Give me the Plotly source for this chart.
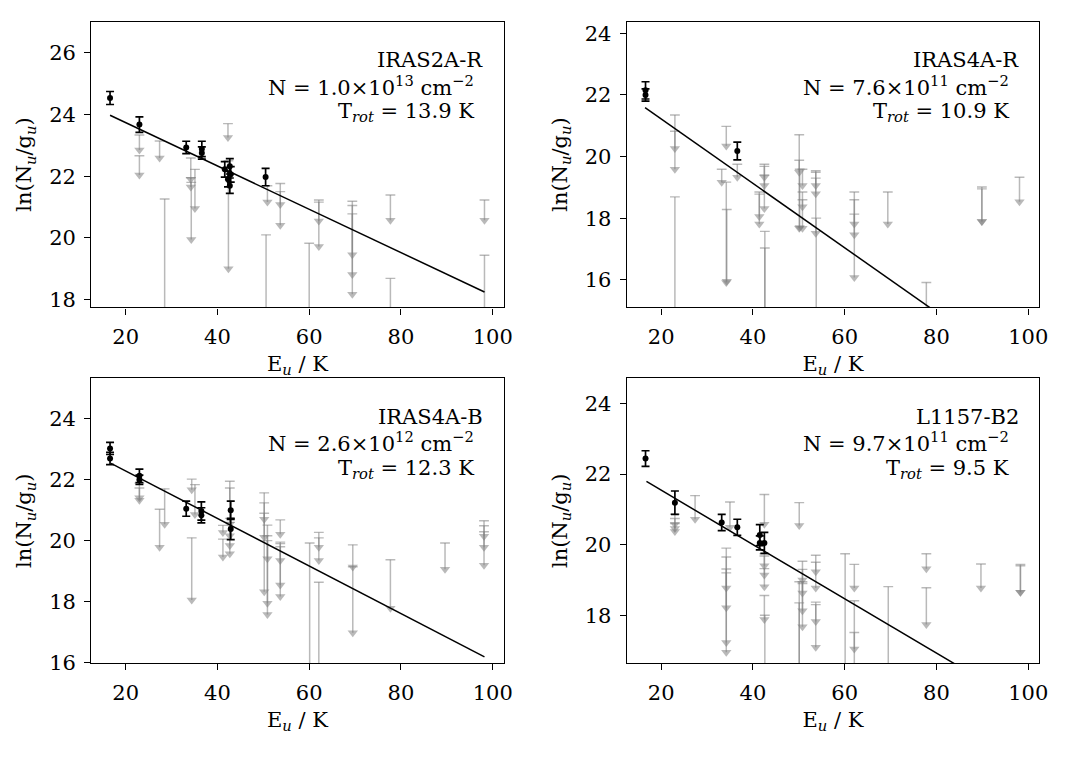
import plotly.graph_objects as go

# ---------------- data ----------------
# Panel 1: IRAS2A-R
p1_det_x = [16.6, 23.0, 33.2, 36.6, 36.6, 41.6, 42.3, 42.7, 42.9, 42.7, 50.5]
p1_det_y = [24.53, 23.67, 22.93, 22.88, 22.75, 22.22, 21.90, 22.32, 22.06, 21.69, 21.97]
p1_det_err = [0.21, 0.25, 0.20, 0.25, 0.20, 0.25, 0.25, 0.25, 0.25, 0.25, 0.28]
p1_lim_x = [23.0, 23.0, 27.4, 28.5, 34.2, 34.2, 34.3, 35.1, 42.3, 42.4, 50.9, 50.6,
            53.7, 53.7, 60.0, 62.1, 62.1, 69.4, 69.4, 69.4, 77.7, 77.7, 98.2, 98.2]
p1_lim_top = [23.33, 22.66, 23.14, 21.26, 22.59, 21.95, 21.80, 22.22, 23.70, 22.50, 21.69, 20.10,
              21.76, 21.50, 19.83, 21.23, 21.16, 21.19, 21.05, 20.78, 21.39, 18.69, 21.23, 19.44]
p1_lim_bot = [22.85, 22.04, 22.59, 14.0, 21.90, 21.65, 19.95, 20.95, 23.25, 19.00, 21.16, 14.0,
              21.08, 20.41, 14.0, 20.55, 19.72, 19.46, 18.82, 18.18, 20.57, 14.0, 20.57, 14.0]
p1_fit_x = [16.6, 98.2]
p1_fit_y = [23.97, 18.25]

# Panel 2: IRAS4A-R
p2_det_x = [16.6, 16.6, 36.6]
p2_det_y = [22.15, 22.00, 20.18]
p2_det_err = [0.28, 0.20, 0.29]
p2_lim_x = [23.0, 23.0, 23.0, 33.2, 34.2, 34.2, 34.3, 36.6, 41.4, 41.4, 42.5, 42.5, 42.5,
            42.6, 42.6, 50.1, 50.1, 50.2, 50.8, 50.8, 50.8, 53.7, 53.7, 53.7, 53.8,
            62.1, 62.1, 62.1, 69.4, 77.8, 89.9, 89.9, 98.1]
p2_lim_top = [21.35, 20.82, 18.69, 19.59, 20.98, 19.17, 18.28, 19.75, 18.85, 18.78, 19.75, 19.68, 19.40,
              17.57, 17.03, 20.71, 19.88, 19.59, 19.59, 18.85, 18.60, 19.54, 19.49, 19.30, 18.00,
              18.85, 18.60, 18.13, 18.85, 15.91, 19.01, 18.95, 19.33]
p2_lim_bot = [20.26, 19.59, 12.0, 19.17, 20.34, 15.91, 15.95, 19.33, 18.05, 17.81, 19.33, 19.06, 18.31,
              12.0, 12.0, 19.49, 17.67, 17.70, 19.06, 18.37, 17.67, 19.06, 18.79, 17.51, 12.0,
              17.81, 17.46, 16.07, 17.81, 12.0, 17.89, 17.89, 18.53]
p2_fit_x = [16.5, 98.3]
p2_fit_y = [21.59, 13.03]

# Panel 3: IRAS4A-B
p3_det_x = [16.6, 16.6, 23.0, 23.0, 33.2, 36.5, 36.5, 42.9, 42.9]
p3_det_y = [23.03, 22.70, 22.13, 22.00, 21.05, 20.97, 20.83, 21.00, 20.38]
p3_det_err = [0.20, 0.20, 0.22, 0.15, 0.25, 0.30, 0.25, 0.30, 0.35]
p3_lim_x = [23.0, 23.0, 27.4, 28.5, 34.4, 34.4, 35.1, 41.2, 41.2, 42.7, 42.7, 42.7, 42.7,
            50.2, 50.2, 50.2, 50.9, 50.9, 50.9, 53.7, 53.7, 53.7, 53.7, 60.1, 62.1, 62.1, 62.1,
            69.5, 69.5, 77.7, 89.6, 98.1, 98.1, 98.1]
p3_lim_top = [21.89, 21.73, 21.03, 21.70, 22.02, 20.09, 21.84, 20.05, 20.50, 21.95, 21.73, 20.73, 20.60,
              21.57, 21.24, 20.90, 20.51, 20.16, 20.00, 20.68, 19.95, 19.90, 19.80, 19.92, 20.27, 20.09, 18.63,
              19.86, 19.14, 19.37, 19.92, 20.65, 20.49, 20.29]
p3_lim_bot = [21.41, 21.33, 19.78, 20.54, 21.67, 18.05, 20.86, 19.46, 20.27, 20.54, 20.16, 19.84, 19.57,
              20.70, 20.11, 18.32, 19.40, 17.94, 17.57, 20.21, 19.35, 18.54, 18.16, 14.0, 19.78, 19.35, 14.0,
              19.13, 16.97, 17.78, 19.06, 20.14, 19.78, 19.19]
p3_fit_x = [16.8, 98.2]
p3_fit_y = [22.54, 16.18]

# Panel 4: L1157-B2
p4_det_x = [16.6, 23.0, 33.2, 36.6, 41.5, 41.5, 42.5]
p4_det_y = [22.44, 21.19, 20.63, 20.49, 20.27, 20.05, 20.05]
p4_det_err = [0.22, 0.33, 0.23, 0.23, 0.30, 0.20, 0.30]
p4_lim_x = [23.0, 23.0, 23.0, 27.4, 34.2, 34.2, 34.2, 34.2, 35.0, 42.5, 42.5, 42.5, 42.5, 42.5,
            42.6, 50.1, 50.1, 50.1, 50.8, 50.8, 50.8, 50.8, 53.7, 53.7, 53.7, 53.7,
            60.1, 62.1, 62.1, 62.1, 69.5, 77.8, 77.8, 89.7, 98.3, 98.3]
p4_lim_top = [20.86, 20.74, 20.60, 21.39, 19.90, 19.65, 19.31, 19.20, 21.21, 21.42, 19.74, 19.68, 19.32, 18.56,
              18.00, 21.19, 18.95, 18.35, 19.53, 19.30, 18.95, 18.90, 19.70, 19.50, 18.37, 18.30,
              19.74, 19.44, 18.41, 17.51, 18.81, 19.74, 18.78, 19.45, 19.44, 19.40]
p4_lim_bot = [20.58, 20.46, 20.37, 20.72, 18.77, 18.21, 17.23, 16.95, 20.49, 20.58, 19.40, 19.14, 18.81, 17.88,
              14.0, 20.54, 14.0, 14.0, 19.00, 18.63, 18.13, 17.67, 19.23, 18.77, 17.82, 17.09,
              14.0, 18.77, 17.04, 14.0, 14.0, 19.32, 17.74, 18.77, 18.65, 18.65]
p4_fit_x = [16.8, 98.3]
p4_fit_y = [21.79, 15.52]

labels = ["IRAS2A-R", "IRAS4A-R", "IRAS4A-B", "L1157-B2"]
n_mant = ["1.0", "7.6", "2.6", "9.7"]
n_exp = ["13", "11", "12", "11"]
t_rot = ["13.9", "10.9", "12.3", "9.5"]
y_ranges = [[17.75, 27.0], [15.1, 24.38], [15.97, 25.33], [16.64, 24.71]]
x_range = [12.5, 102.4]

panels = [
    (p1_det_x, p1_det_y, p1_det_err, p1_lim_x, p1_lim_top, p1_lim_bot, p1_fit_x, p1_fit_y),
    (p2_det_x, p2_det_y, p2_det_err, p2_lim_x, p2_lim_top, p2_lim_bot, p2_fit_x, p2_fit_y),
    (p3_det_x, p3_det_y, p3_det_err, p3_lim_x, p3_lim_top, p3_lim_bot, p3_fit_x, p3_fit_y),
    (p4_det_x, p4_det_y, p4_det_err, p4_lim_x, p4_lim_top, p4_lim_bot, p4_fit_x, p4_fit_y),
]

# ---------------- layout geometry ----------------
W, H = 1076, 757
x_doms = [[92 / W, 508 / W], [632 / W, 1048 / W]]
y_doms = [[1 - 312 / H, 1 - 22 / H], [1 - 673 / H, 1 - 384 / H]]

FONT = "DejaVu Serif"
FS = 21
GRAY = "rgba(128,128,128,0.55)"

fig = go.Figure()
layout = dict(
    width=W, height=H,
    margin=dict(l=0, r=0, t=0, b=0),
    paper_bgcolor="white", plot_bgcolor="white",
    showlegend=False,
    font=dict(family=FONT, size=FS, color="black"),
)

annotations = []
for i, (dx, dy, de, lx, lt, lb, fx, fy) in enumerate(panels):
    row, col = divmod(i, 2)
    n = i + 1
    xa = "x" if n == 1 else f"x{n}"
    ya = "y" if n == 1 else f"y{n}"
    up = [t - b for t, b in zip(lt, lb)]
    zeros = [0] * len(lx)
    # upper-limit bars with arrowheads
    fig.add_trace(go.Scatter(
        x=lx, y=lb, mode="markers", xaxis=xa, yaxis=ya,
        marker=dict(symbol="triangle-down", size=9, color=GRAY, line=dict(width=0)),
        error_y=dict(type="data", symmetric=False, array=up, arrayminus=zeros,
                     width=0, thickness=1.5, color=GRAY),
        hoverinfo="skip"))
    # caps at the top of the limits
    fig.add_trace(go.Scatter(
        x=lx, y=lt, mode="markers", xaxis=xa, yaxis=ya,
        marker=dict(symbol="line-ew", size=7, line=dict(width=1.4, color=GRAY)),
        hoverinfo="skip"))
    # fit line
    fig.add_trace(go.Scatter(
        x=fx, y=fy, mode="lines", xaxis=xa, yaxis=ya,
        line=dict(color="black", width=1.5), hoverinfo="skip"))
    # detections
    fig.add_trace(go.Scatter(
        x=dx, y=dy, mode="markers", xaxis=xa, yaxis=ya,
        marker=dict(symbol="circle", size=6, color="black"),
        error_y=dict(type="data", array=de, width=4, thickness=1.7, color="black"),
        hoverinfo="skip"))

    axis_common = dict(
        showline=True, linecolor="black", linewidth=1.3, mirror=True,
        ticks="outside", ticklen=6, tickwidth=1.3, tickcolor="black",
        showgrid=False, zeroline=False,
        ticklabelstandoff=4,
        tickfont=dict(family=FONT, size=FS, color="black"),
    )
    layout["xaxis" if n == 1 else f"xaxis{n}"] = dict(
        axis_common, domain=x_doms[col], anchor=ya, range=x_range,
        tickmode="array", tickvals=[20, 40, 60, 80, 100],
        title=dict(text="E<sub><i>u</i></sub> / K", standoff=8,
                   font=dict(family=FONT, size=FS)),
    )
    layout["yaxis" if n == 1 else f"yaxis{n}"] = dict(
        axis_common, domain=y_doms[row], anchor=xa, range=y_ranges[i],
        dtick=2, tick0=0,
        title=dict(text="ln(N<sub><i>u</i></sub>/g<sub><i>u</i></sub>)", standoff=11,
                   font=dict(family=FONT, size=FS)),
    )
    xd = xa + " domain"
    yd = ya + " domain"
    annotations += [
        dict(text=labels[i], xref=xd, yref=yd, x=0.955, y=0.866,
             xanchor="right", yanchor="middle", showarrow=False,
             font=dict(family=FONT, size=FS)),
        dict(text=f"N = {n_mant[i]}×10<sup>{n_exp[i]}</sup> cm<sup>−2</sup>",
             xref=xd, yref=yd, x=0.932, y=0.776,
             xanchor="right", yanchor="middle", showarrow=False,
             font=dict(family=FONT, size=FS)),
        dict(text=f"T<sub><i>rot</i></sub> = {t_rot[i]} K",
             xref=xd, yref=yd, x=0.932, y=0.683,
             xanchor="right", yanchor="middle", showarrow=False,
             font=dict(family=FONT, size=FS)),
    ]

layout["annotations"] = annotations
fig.update_layout(**layout)
fig.write_html("out.html")
